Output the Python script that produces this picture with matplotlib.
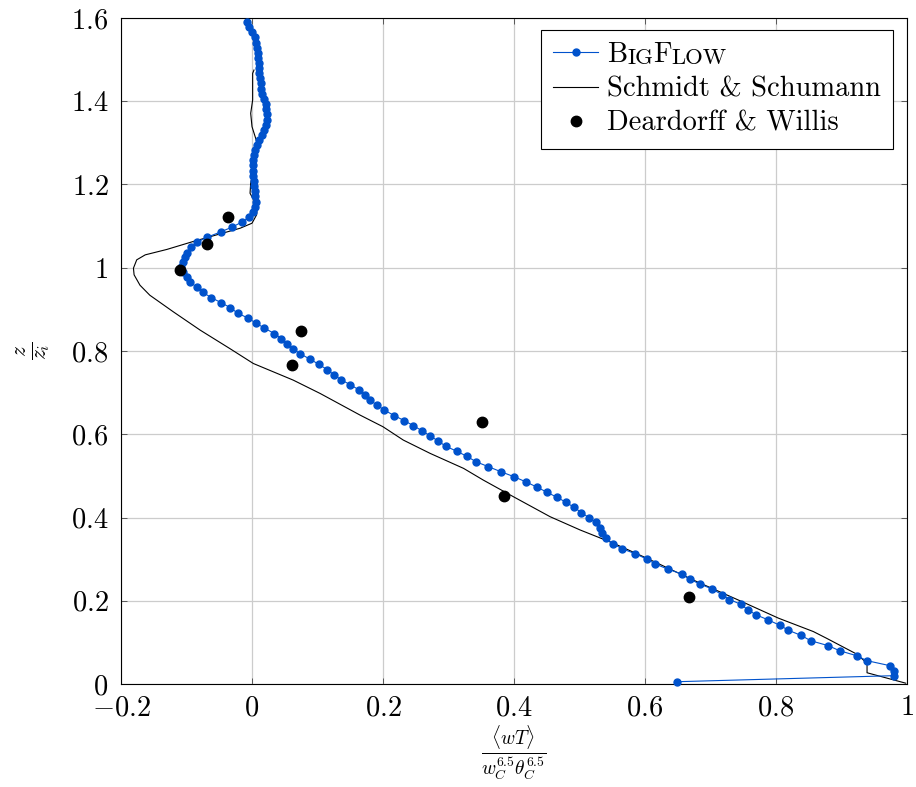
import numpy as np
import matplotlib as mpl
mpl.use('Agg')
import matplotlib.pyplot as plt
from matplotlib.ticker import FuncFormatter, MultipleLocator

mpl.rcParams['font.family'] = 'cmr10'
mpl.rcParams['mathtext.fontset'] = 'cm'
mpl.rcParams['axes.unicode_minus'] = True

# BigFlow profile (x = <wT>/(w*theta*), z = z/zi)
bigflow_x = [0.649, 0.980, 0.980, 0.974, 0.939, 0.923, 0.897, 0.880, 0.853, 0.838,
             0.819, 0.806, 0.788, 0.770, 0.757, 0.747, 0.729, 0.717, 0.703, 0.684,
             0.668, 0.656, 0.635, 0.616, 0.603, 0.585, 0.565, 0.551, 0.540, 0.535,
             0.531, 0.525, 0.514, 0.503, 0.491, 0.479, 0.465, 0.450, 0.435, 0.419,
             0.400, 0.380, 0.361, 0.342, 0.328, 0.313, 0.296, 0.284, 0.272, 0.260,
             0.246, 0.232, 0.217, 0.202, 0.191, 0.180, 0.172, 0.164, 0.150, 0.136,
             0.125, 0.115, 0.102, 0.089, 0.074, 0.062, 0.053, 0.045, 0.034, 0.019,
             0.006, -0.006, -0.022, -0.033, -0.047, -0.062, -0.075, -0.084, -0.094, -0.100,
             -0.106, -0.108, -0.106, -0.103, -0.100, -0.093, -0.084, -0.069, -0.048, -0.030,
             -0.015, -0.004, 0.002, 0.005, 0.006, 0.005, 0.004, 0.003, 0.003, 0.002,
             0.002, 0.002, 0.002, 0.003, 0.004, 0.007, 0.011, 0.015, 0.019, 0.022,
             0.023, 0.023, 0.022, 0.021, 0.019, 0.016, 0.014, 0.013, 0.012, 0.011,
             0.010, 0.010, 0.009, 0.009, 0.008, 0.006, 0.004, 0.000, -0.004, -0.008]
bigflow_z = [0.0055, 0.020, 0.031, 0.044, 0.056, 0.068, 0.080, 0.092, 0.104, 0.117,
             0.129, 0.141, 0.154, 0.166, 0.178, 0.191, 0.203, 0.215, 0.228, 0.240,
             0.252, 0.264, 0.276, 0.288, 0.300, 0.313, 0.325, 0.337, 0.350, 0.362,
             0.374, 0.388, 0.400, 0.412, 0.425, 0.437, 0.449, 0.461, 0.473, 0.485,
             0.498, 0.510, 0.522, 0.534, 0.547, 0.559, 0.571, 0.584, 0.596, 0.608,
             0.621, 0.633, 0.645, 0.658, 0.670, 0.682, 0.694, 0.706, 0.719, 0.731,
             0.743, 0.755, 0.768, 0.780, 0.793, 0.806, 0.817, 0.830, 0.842, 0.855,
             0.867, 0.879, 0.891, 0.904, 0.916, 0.928, 0.941, 0.953, 0.965, 0.977,
             0.989, 1.001, 1.013, 1.025, 1.036, 1.049, 1.061, 1.073, 1.086, 1.098,
             1.110, 1.122, 1.135, 1.147, 1.159, 1.172, 1.184, 1.196, 1.209, 1.221,
             1.233, 1.246, 1.258, 1.270, 1.283, 1.295, 1.307, 1.320, 1.332, 1.344,
             1.356, 1.369, 1.381, 1.393, 1.406, 1.418, 1.430, 1.443, 1.455, 1.467,
             1.480, 1.492, 1.504, 1.517, 1.529, 1.541, 1.554, 1.566, 1.578, 1.591]

# Schmidt & Schumann LES
schmidt_x = [0.998, 0.939, 0.939, 0.923, 0.877, 0.857, 0.804, 0.745, 0.679, 0.603,
             0.552, 0.501, 0.455, 0.399, 0.353, 0.323, 0.272, 0.231, 0.200, 0.165,
             0.104, 0.063, 0.002, -0.034, -0.079, -0.120, -0.156, -0.171, -0.180, -0.181,
             -0.176, -0.163, -0.130, -0.090, -0.054, -0.018, 0.000, 0.007, 0.008, -0.003,
             -0.002, 0.001, 0.006, 0.008, 0.000, -0.002, 0.001, 0.001, 0.003]
schmidt_z = [0.002, 0.027, 0.050, 0.072, 0.110, 0.126, 0.158, 0.200, 0.246, 0.302,
             0.338, 0.370, 0.402, 0.450, 0.490, 0.518, 0.554, 0.586, 0.618, 0.646,
             0.698, 0.730, 0.770, 0.806, 0.850, 0.894, 0.934, 0.958, 0.983, 0.999,
             1.019, 1.031, 1.044, 1.063, 1.079, 1.095, 1.107, 1.127, 1.147, 1.179,
             1.203, 1.227, 1.267, 1.299, 1.339, 1.371, 1.403, 1.467, 1.475]

# Deardorff & Willis water tank
dw_x = [-0.110, -0.068, -0.037, 0.075, 0.061, 0.351, 0.384, 0.667]
dw_z = [0.995, 1.057, 1.123, 0.847, 0.767, 0.629, 0.451, 0.208]

blue = '#0052cc'
fs = 20.5

fig = plt.figure(figsize=(9.16, 7.87), dpi=100)
ax = fig.add_axes([121/916, 103/787, 786/916, 666/787])

ax.plot(bigflow_x, bigflow_z, color=blue, lw=0.8, marker='o', ms=5.0,
        mec=blue, mfc=blue, label='BIGFLOW', clip_on=False, zorder=3)
ax.plot(schmidt_x, schmidt_z, color='black', lw=0.8, label='Schmidt & Schumann', zorder=2)
ax.plot(dw_x, dw_z, ls='none', marker='o', ms=7.5, color='black',
        label='Deardorff & Willis', clip_on=False, zorder=4)

ax.set_xlim(-0.2, 1.0)
ax.set_ylim(0, 1.6)
ax.xaxis.set_major_locator(MultipleLocator(0.2))
ax.yaxis.set_major_locator(MultipleLocator(0.2))
fmt = FuncFormatter(lambda v, p: r'$%g$' % round(v, 3))
ax.xaxis.set_major_formatter(fmt)
ax.yaxis.set_major_formatter(fmt)
ax.tick_params(direction='in', length=4, width=0.6, top=True, right=True,
               labelsize=fs, color='#444444')
ax.tick_params(axis='x', pad=8)
ax.tick_params(axis='y', pad=9)
ax.grid(True, color='#cccccc', lw=0.9)
ax.set_axisbelow(True)
for s in ax.spines.values():
    s.set_linewidth(0.8)

ax.set_xlabel(r'$\frac{\langle wT\rangle}{w_C^{6.5}\theta_C^{6.5}}$', fontsize=20, labelpad=1)
ax.set_ylabel(r'$\frac{z}{z_i}$', fontsize=22, labelpad=13)

leg = ax.legend(loc='upper right', bbox_to_anchor=(0.982, 0.982), borderaxespad=0,
                fontsize=fs, fancybox=False, framealpha=1, edgecolor='black',
                handlelength=1.6, handletextpad=0.3, labelspacing=0.28,
                borderpad=0.42, numpoints=1)
leg.get_frame().set_linewidth(0.8)

# small caps label for BigFlow
t0 = leg.texts[0]
t0.set_alpha(0)
pieces = [('B', fs), ('IG', fs * 0.8), ('F', fs), ('LOW', fs * 0.8)]
prev = t0
anchor = (0, 0)
for txt, size in pieces:
    a = ax.annotate(txt, xy=anchor, xycoords=prev, ha='left', va='bottom',
                    fontsize=size, zorder=10)
    prev = a
    anchor = (1, 0)

fig.savefig('out.png', dpi=100)
